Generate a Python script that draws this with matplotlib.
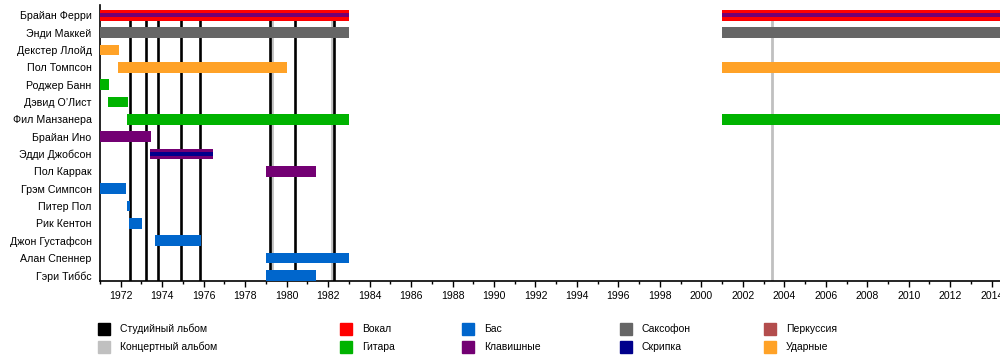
import matplotlib
matplotlib.use("Agg")
import matplotlib.pyplot as plt
from matplotlib.patches import Rectangle

plt.rcParams['font.family'] = ['Liberation Sans', 'DejaVu Sans']

members = ["Брайан Ферри", "Энди Маккей", "Декстер Ллойд", "Пол Томпсон",
           "Роджер Банн", "Дэвид О’Лист", "Фил Манзанера", "Брайан Ино",
           "Эдди Джобсон", "Пол Каррак", "Грэм Симпсон", "Питер Пол",
           "Рик Кентон", "Джон Густафсон", "Алан Спеннер", "Гэри Тиббс"]

END = 2014.4
# main bars
bar_member = [0, 0, 1, 1, 2, 3, 3, 4, 5, 6, 6, 7, 8, 9, 10, 11, 12, 13, 14, 15]
bar_start = [1971.0, 2001.0, 1971.0, 2001.0, 1971.0, 1971.88, 2001.0, 1971.0, 1971.4,
             1972.3, 2001.0, 1971.0, 1973.42, 1979.0, 1971.0, 1972.3, 1972.4,
             1973.66, 1979.0, 1979.0]
bar_end = [1983.0, END, 1983.0, END, 1971.92, 1980.0, END, 1971.43, 1972.35,
           1983.0, END, 1973.46, 1976.45, 1981.42, 1972.25, 1972.45, 1973.03,
           1975.87, 1983.0, 1981.42]
bar_role = ["Вокал", "Вокал", "Саксофон", "Саксофон", "Ударные", "Ударные", "Ударные",
            "Гитара", "Гитара", "Гитара", "Гитара", "Клавишные", "Клавишные",
            "Клавишные", "Бас", "Бас", "Бас", "Бас", "Бас", "Бас"]
# secondary (thin stripe) roles
stripe_member = [0, 0, 8]
stripe_start = [1971.0, 2001.0, 1973.42]
stripe_end = [1983.0, END, 1976.45]
stripe_role = ["Клавишные", "Клавишные", "Скрипка"]

studio_albums = [1972.47, 1973.23, 1973.81, 1974.89, 1975.81, 1979.20, 1980.42, 1982.30]
live_albums = [1979.29, 1982.20, 2003.40]

legend_labels = ["Студийный льбом", "Концертный альбом", "Вокал", "Гитара", "Бас",
                 "Клавишные", "Саксофон", "Скрипка", "Перкуссия", "Ударные"]
colors = {
    "Студийный льбом": "#000000",
    "Концертный альбом": "#c0c0c0",
    "Вокал": "#ff0000",
    "Гитара": "#00b300",
    "Бас": "#0066cc",
    "Клавишные": "#730073",
    "Саксофон": "#666666",
    "Скрипка": "#00008c",
    "Перкуссия": "#b34d4d",
    "Ударные": "#ffa227",
}

fig = plt.figure(figsize=(10, 3.6), dpi=100)
ax = fig.add_axes([0.1, 1 - 280.7 / 360, 0.9, (280.7 - 4.9) / 360])

for x in live_albums:
    ax.plot([x, x], [0, 15.31], color=colors["Концертный альбом"], lw=2.0, zorder=1,
            solid_capstyle='butt')
for x in studio_albums:
    ax.plot([x, x], [0, 15.31], color=colors["Студийный льбом"], lw=1.9, zorder=2,
            solid_capstyle='butt')

for m, s, e, r in zip(bar_member, bar_start, bar_end, bar_role):
    ax.barh(m, e - s, left=s, height=0.62, color=colors[r], zorder=3, linewidth=0)
for m, s, e, r in zip(stripe_member, stripe_start, stripe_end, stripe_role):
    ax.barh(m, e - s, left=s, height=0.25, color=colors[r], zorder=4, linewidth=0)

ax.set_xlim(1971.0, END)
ax.set_ylim(15.31, -0.6)
ax.set_yticks(range(len(members)))
ax.set_yticklabels(members, fontsize=7.7)
ax.tick_params(axis='y', length=0, pad=6)
ax.set_xticks(range(1972, 2015, 2))
ax.set_xticks(range(1971, 2015), minor=True)
ax.tick_params(axis='x', which='major', length=4.5, width=1, labelsize=7.6, pad=3)
ax.tick_params(axis='x', which='minor', length=2, width=1)
for sp in ["top", "right"]:
    ax.spines[sp].set_visible(False)
ax.spines["left"].set_linewidth(1.2)
ax.spines["bottom"].set_linewidth(1.2)

# legend (manual layout)
col_x = [98, 340, 462, 620, 764]
row_y = [329, 347]
for i, lab in enumerate(legend_labels):
    cx = col_x[i // 2]
    cy = row_y[i % 2]
    fig.patches.append(Rectangle((cx / 1000, 1 - (cy + 6) / 360), 12 / 1000, 12 / 360,
                                 transform=fig.transFigure, color=colors[lab]))
    fig.text((cx + 22) / 1000, 1 - cy / 360, lab, fontsize=7.5, va='center', ha='left')

fig.savefig("out.png", dpi=100)
